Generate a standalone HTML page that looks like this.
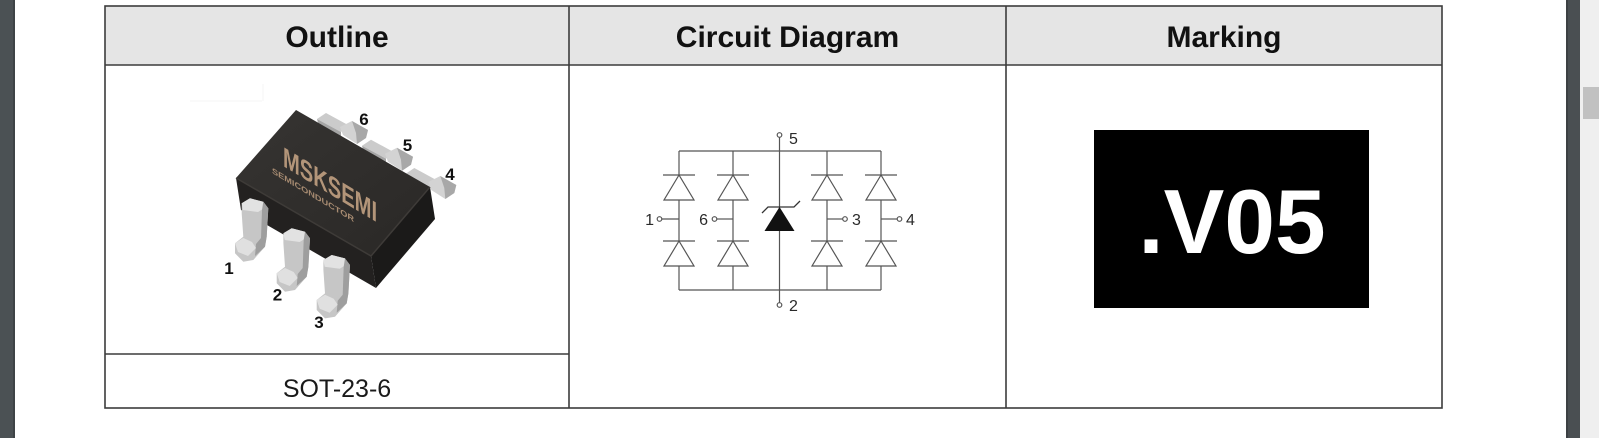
<!DOCTYPE html>
<html>
<head>
<meta charset="utf-8">
<style>
html,body{margin:0;padding:0;background:#fff;}
body{width:1599px;height:438px;overflow:hidden;}
svg{display:block;}
</style>
</head>
<body>
<svg width="1599" height="438" viewBox="0 0 1599 438" xmlns="http://www.w3.org/2000/svg" font-family="'Liberation Sans', Arial, sans-serif">
  <rect x="0" y="0" width="1599" height="438" fill="#ffffff"/>
  <!-- left dark bar -->
  <rect x="0" y="0" width="13" height="438" fill="#4b5154"/>
  <rect x="13" y="0" width="2" height="438" fill="#3e4346"/>
  <!-- right bars -->
  <rect x="1566" y="0" width="14" height="438" fill="#4a4f52"/>
  <rect x="1566" y="0" width="2" height="438" fill="#3c4043"/>
  <rect x="1580" y="0" width="19" height="438" fill="#efefef"/>
  <rect x="1583" y="87" width="16" height="32" fill="#c1c1c1"/>

  <!-- table header -->
  <rect x="105" y="6" width="1337" height="59" fill="#e5e5e5"/>
  <g stroke="#3c3c3c" stroke-width="1.6" fill="none">
    <rect x="105" y="6" width="1337" height="402"/>
    <line x1="105" y1="65" x2="1442" y2="65"/>
    <line x1="569" y1="6" x2="569" y2="408"/>
    <line x1="1006" y1="6" x2="1006" y2="408"/>
    <line x1="105" y1="354" x2="569" y2="354"/>
  </g>
  <g font-weight="bold" font-size="30" fill="#111" text-anchor="middle">
    <text x="337" y="47">Outline</text>
    <text x="787.5" y="47">Circuit Diagram</text>
    <text x="1224" y="47">Marking</text>
  </g>
  <text x="337" y="397" font-size="25" fill="#1a1a1a" text-anchor="middle">SOT-23-6</text>

  <!-- faint mark -->
  <line x1="190" y1="101" x2="262" y2="101" stroke="#f4f4f4" stroke-width="1"/>
  <line x1="263" y1="84" x2="263" y2="101" stroke="#f4f4f4" stroke-width="1"/>

  <defs>
    <g id="backlead">
      <polygon points="317,119 326,113 348,125 341,132" fill="#cbcbcb"/>
      <polygon points="317,119 341,132 341,136 318,123" fill="#a5a5a5"/>
      <polygon points="340,127 352,121 368,130 366,138 357,144 343,135" fill="#d3d3d3"/>
      <polygon points="352,121 368,130 366,138 357,144 356,133" fill="#a8a8a8"/>
    </g>
    <g id="frontlead">
      <polygon points="241.7,203.3 250,198.3 263.3,201.7 268.3,208.3 266.7,236.7 265,246.7 253.3,260 243.3,261.7 235,253.3 235,243.3 243.3,236.7 241.7,213.3" fill="#c6c6c6"/>
      <polygon points="241.7,203.3 250,198.3 263.3,201.7 266,207 258,212 243,210" fill="#e2e2e2"/>
      <polygon points="263.3,201.7 268.3,208.3 266.7,236.7 265,246.7 255,256 256,244 261,238 262,210" fill="#9e9e9e"/>
      <polygon points="235,243.3 243.3,238 252,242 256,248 248,256 238,252" fill="#e0e0e0"/>
    </g>
    <linearGradient id="topg" x1="0" y1="0" x2="1" y2="1">
      <stop offset="0" stop-color="#363432"/>
      <stop offset="1" stop-color="#2a2826"/>
    </linearGradient>
  </defs>
  <use href="#backlead"/>
  <use href="#backlead" transform="translate(45,26.7)"/>
  <use href="#backlead" transform="translate(88.3,55)"/>

  <!-- chip body -->
  <polygon points="236,178 371,256 376,288 241,210" fill="#232120"/>
  <polygon points="371,256 430,187 435,219 376,288" fill="#1b1a19"/>
  <polygon points="296,110 430,187 371,256 236,178" fill="url(#topg)"/>
  <polyline points="236,178 371,256 430,187" fill="none" stroke="#3e3b38" stroke-width="1.5"/>

  <!-- chip text -->
  <text transform="translate(283,166) skewY(31) scale(0.72,1)" font-size="28" font-weight="bold" fill="#b39579">MSKSEMI</text>
  <text transform="translate(272,173) skewY(31) scale(1.15,1)" font-size="8" font-weight="bold" fill="#a88c72">SEMICONDUCTOR</text>

  <!-- front leads -->
  <use href="#frontlead"/>
  <use href="#frontlead" transform="translate(41.7,30)"/>
  <use href="#frontlead" transform="translate(81.7,56.7)"/>

  <!-- lead labels -->
  <g font-weight="bold" font-size="17" fill="#111" text-anchor="middle">
    <text x="229" y="274">1</text>
    <text x="277.5" y="300.5">2</text>
    <text x="319" y="328">3</text>
    <text x="450" y="180">4</text>
    <text x="407.5" y="151">5</text>
    <text x="364" y="125">6</text>
  </g>

  <!-- circuit diagram -->
  <g stroke="#555" stroke-width="1.2" fill="none">
    <line x1="679" y1="151" x2="881" y2="151"/>
    <line x1="679" y1="290" x2="881" y2="290"/>
    <line x1="779.5" y1="137" x2="779.5" y2="303"/>
  </g>
  <defs>
    <g id="col" stroke="#555" stroke-width="1.2" fill="none">
      <line x1="0" y1="151" x2="0" y2="175"/>
      <line x1="-16" y1="175" x2="16" y2="175"/>
      <polygon points="0,175 -15,200 15,200" fill="#fff"/>
      <line x1="0" y1="200" x2="0" y2="241"/>
      <line x1="-16" y1="241" x2="16" y2="241"/>
      <polygon points="0,241 -15,266 15,266" fill="#fff"/>
      <line x1="0" y1="266" x2="0" y2="290"/>
    </g>
  </defs>
  <use href="#col" transform="translate(679,0)"/>
  <use href="#col" transform="translate(733,0)"/>
  <use href="#col" transform="translate(827,0)"/>
  <use href="#col" transform="translate(881,0)"/>
  <g stroke="#555" stroke-width="1.2" fill="#fff">
    <line x1="662" y1="219" x2="679" y2="219"/>
    <line x1="717" y1="219" x2="733" y2="219"/>
    <line x1="827" y1="219" x2="843" y2="219"/>
    <line x1="881" y1="219" x2="897" y2="219"/>
    <circle cx="659.5" cy="219" r="2.3"/>
    <circle cx="714.5" cy="219" r="2.3"/>
    <circle cx="845" cy="219" r="2.3"/>
    <circle cx="899.5" cy="219" r="2.3"/>
    <circle cx="779.5" cy="135" r="2.3"/>
    <circle cx="779.5" cy="305" r="2.3"/>
  </g>
  <!-- zener -->
  <polygon points="779.5,207 764.5,231 794.5,231" fill="#111"/>
  <polyline points="762,213 768,207 794,207 800,201" fill="none" stroke="#333" stroke-width="1.3"/>
  <g font-size="16" fill="#2a2a2a">
    <text x="654" y="225" text-anchor="end">1</text>
    <text x="708" y="225" text-anchor="end">6</text>
    <text x="852" y="225">3</text>
    <text x="906" y="225">4</text>
    <text x="789" y="144">5</text>
    <text x="789" y="311">2</text>
  </g>

  <!-- marking -->
  <rect x="1094" y="130" width="275" height="178" fill="#000"/>
  <text x="1232" y="253" font-size="91" font-weight="bold" fill="#fff" text-anchor="middle">.V05</text>
</svg>
</body>
</html>
